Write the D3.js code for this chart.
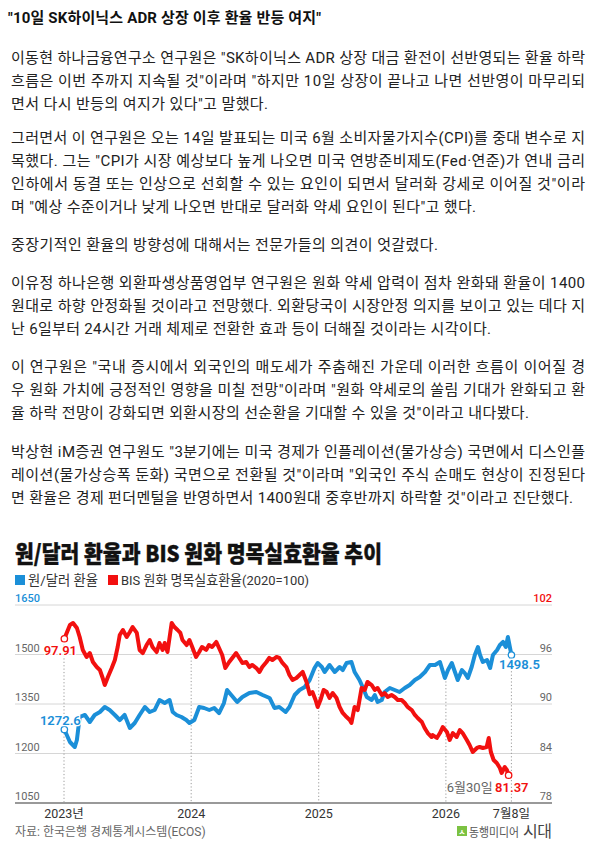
<!DOCTYPE html>
<html><head><meta charset="utf-8">
<script src="https://cdn.jsdelivr.net/npm/d3@7"></script>
<style>
html,body{margin:0;padding:0;background:#fff;}
svg{display:block;}
</style></head><body>
<svg id="c" width="597" height="843"></svg>
<script>
// ---------- article text ----------
const articleTitle = '"10일 SK하이닉스 ADR 상장 이후 환율 반등 여지"';
const paragraphs = [
  ['이동현 하나금융연구소 연구원은 "SK하이닉스 ADR 상장 대금 환전이 선반영되는 환율 하락',
   '흐름은 이번 주까지 지속될 것"이라며 "하지만 10일 상장이 끝나고 나면 선반영이 마무리되',
   '면서 다시 반등의 여지가 있다"고 말했다.'],
  ['그러면서 이 연구원은 오는 14일 발표되는 미국 6월 소비자물가지수(CPI)를 중대 변수로 지',
   '목했다. 그는 "CPI가 시장 예상보다 높게 나오면 미국 연방준비제도(Fed·연준)가 연내 금리',
   '인하에서 동결 또는 인상으로 선회할 수 있는 요인이 되면서 달러화 강세로 이어질 것"이라',
   '며 "예상 수준이거나 낮게 나오면 반대로 달러화 약세 요인이 된다"고 했다.'],
  ['중장기적인 환율의 방향성에 대해서는 전문가들의 의견이 엇갈렸다.'],
  ['이유정 하나은행 외환파생상품영업부 연구원은 원화 약세 압력이 점차 완화돼 환율이 1400',
   '원대로 하향 안정화될 것이라고 전망했다. 외환당국이 시장안정 의지를 보이고 있는 데다 지',
   '난 6일부터 24시간 거래 체제로 전환한 효과 등이 더해질 것이라는 시각이다.'],
  ['이 연구원은 "국내 증시에서 외국인의 매도세가 주춤해진 가운데 이러한 흐름이 이어질 경',
   '우 원화 가치에 긍정적인 영향을 미칠 전망"이라며 "원화 약세로의 쏠림 기대가 완화되고 환',
   '율 하락 전망이 강화되면 외환시장의 선순환을 기대할 수 있을 것"이라고 내다봤다.'],
  ['박상현 iM증권 연구원도 "3분기에는 미국 경제가 인플레이션(물가상승) 국면에서 디스인플',
   '레이션(물가상승폭 둔화) 국면으로 전환될 것"이라며 "외국인 주식 순매도 현상이 진정된다',
   '면 환율은 경제 펀더멘털을 반영하면서 1400원대 중후반까지 하락할 것"이라고 진단했다.']
];

// ---------- chart text ----------
const chartTitle = '원/달러 환율과 BIS 원화 명목실효환율 추이';
const seriesNames = ['원/달러 환율', 'BIS 원화 명목실효환율(2020=100)'];
const leftTicks = [1050, 1200, 1350, 1500, 1650];
const rightTicks = [78, 84, 90, 96, 102];
const xTickDates = ['2023-01-01', '2024-01-01', '2025-01-01', '2026-01-01', '2026-07-08'];
const xTickLabels = ['2023년', '2024', '2025', '2026', '7월8일'];
const endNote = '6월30일';
const sourceText = '자료: 한국은행 경제통계시스템(ECOS)';
const brandSmall = '동행미디어';
const brandBig = '시대';

// ---------- data ----------
const usdkrwDates = ['2023-01-02','2023-01-18','2023-02-01','2023-02-07','2023-02-15','2023-03-02','2023-03-16','2023-03-30','2023-04-14','2023-04-28','2023-05-12','2023-05-27','2023-06-10','2023-06-24','2023-07-09','2023-07-23','2023-08-06','2023-08-21','2023-09-04','2023-09-18','2023-10-02','2023-10-17','2023-10-31','2023-11-09','2023-11-20','2023-12-04','2023-12-18','2023-12-27',
'2024-01-10','2024-01-24','2024-02-07','2024-02-22','2024-03-07','2024-03-21','2024-04-04','2024-04-13','2024-04-25','2024-05-12','2024-05-27','2024-06-16','2024-07-06','2024-07-24','2024-08-13','2024-08-27','2024-09-10','2024-09-28','2024-10-09','2024-10-24','2024-11-07','2024-11-22','2024-12-06','2024-12-20','2024-12-29',
'2025-01-10','2025-01-18','2025-02-01','2025-02-16','2025-03-02','2025-03-11','2025-03-22','2025-04-05','2025-04-14','2025-04-28','2025-05-07','2025-05-19','2025-06-02','2025-06-11','2025-06-19','2025-07-01','2025-07-09','2025-07-24','2025-08-07','2025-08-21','2025-09-05','2025-09-19','2025-10-04','2025-10-18','2025-11-02','2025-11-16','2025-12-01','2025-12-15','2025-12-29',
'2026-01-07','2026-01-18','2026-01-27','2026-02-04','2026-02-16','2026-02-24','2026-03-05','2026-03-16','2026-03-25','2026-04-03','2026-04-09','2026-04-17','2026-04-29','2026-05-08','2026-05-16','2026-05-28','2026-06-05','2026-06-14','2026-06-22','2026-06-28','2026-07-08'];
const usdkrwValues = [1272.6,1234.8,1219.7,1240.9,1310.6,1316.7,1295.5,1316.7,1325.8,1340.9,1331.8,1316.7,1301.5,1316.7,1277.3,1292.4,1316.7,1340.9,1325.8,1331.8,1362.1,1353.0,1362.1,1325.8,1316.7,1310.6,1301.5,1292.4,
1301.5,1340.9,1337.9,1331.8,1337.9,1322.7,1353.0,1392.4,1377.3,1356.1,1371.2,1383.3,1386.4,1377.3,1368.2,1337.9,1340.9,1325.8,1340.9,1377.3,1392.4,1401.5,1422.7,1459.1,1474.2,
1462.1,1447.0,1468.2,1447.0,1462.1,1453.0,1474.2,1477.3,1447.0,1422.7,1401.5,1371.2,1362.1,1377.3,1356.1,1362.1,1386.4,1398.5,1392.4,1386.4,1398.5,1407.6,1422.7,1431.8,1447.0,1468.2,1468.2,1477.3,1428.8,
1453.0,1474.2,1447.0,1422.7,1453.0,1443.9,1428.8,1462.1,1498.5,1522.7,1498.5,1477.3,1483.3,1459.1,1498.5,1513.6,1528.8,1537.9,1522.7,1553.0,1498.5];

const neerDates = ['2023-01-02','2023-01-18','2023-01-27','2023-02-07','2023-02-15','2023-02-24','2023-03-07','2023-03-16','2023-03-25','2023-04-05','2023-04-14','2023-04-22','2023-04-28','2023-05-07','2023-05-18','2023-05-27','2023-06-04','2023-06-10','2023-06-19','2023-06-30','2023-07-09','2023-07-17','2023-07-29','2023-08-06','2023-08-15','2023-08-26','2023-09-04','2023-09-12','2023-09-24','2023-10-02','2023-10-11','2023-10-17','2023-10-25','2023-11-06','2023-11-14','2023-11-23','2023-12-01','2023-12-07','2023-12-19','2023-12-27',
'2024-01-04','2024-01-15','2024-01-24','2024-02-01','2024-02-13','2024-02-21','2024-03-01','2024-03-13','2024-03-21','2024-03-30','2024-04-08','2024-04-19','2024-04-28','2024-05-09','2024-05-18','2024-05-27','2024-06-07','2024-06-16','2024-06-24','2024-07-06','2024-07-15','2024-07-23','2024-08-04','2024-08-12','2024-08-21','2024-09-02','2024-09-10','2024-09-19','2024-09-30','2024-10-09','2024-10-18','2024-10-29','2024-11-07','2024-11-16','2024-11-27','2024-12-06','2024-12-14','2024-12-23','2024-12-29',
'2025-01-06','2025-01-15','2025-01-24','2025-02-01','2025-02-10','2025-02-21','2025-03-02','2025-03-11','2025-03-22','2025-03-31','2025-04-05','2025-04-14','2025-04-23','2025-04-28','2025-05-04','2025-05-13','2025-05-21','2025-06-02','2025-06-11','2025-06-19','2025-07-01','2025-07-09','2025-07-18','2025-07-29','2025-08-07','2025-08-16','2025-08-27','2025-09-05','2025-09-13','2025-09-25','2025-10-04','2025-10-12','2025-10-24','2025-11-01','2025-11-10','2025-11-21','2025-11-24','2025-12-06','2025-12-15','2025-12-23',
'2026-01-04','2026-01-12','2026-01-21','2026-02-01','2026-02-10','2026-02-18','2026-03-02','2026-03-10','2026-03-19','2026-03-31','2026-04-08','2026-04-17','2026-04-28','2026-05-04','2026-05-10','2026-05-18','2026-05-27','2026-06-05','2026-06-10','2026-06-19','2026-06-25','2026-06-30'];
const neerValues = [97.91,99.58,99.82,99.21,98.12,96.55,95.70,96.18,95.09,94.48,94.12,93.15,92.30,93.27,94.36,95.33,96.91,98.36,98.97,98.12,98.73,99.33,98.61,96.55,96.18,97.15,97.76,96.91,96.30,97.39,96.55,97.39,96.30,99.82,99.33,98.97,98.61,97.76,97.15,97.76,
96.91,95.70,96.30,96.91,96.55,97.15,96.91,97.52,96.79,95.94,94.36,95.09,95.58,96.18,95.58,94.97,95.09,94.48,94.73,94.36,93.88,94.48,95.09,95.58,95.33,95.70,95.58,94.97,94.48,93.52,92.91,93.15,93.52,93.88,92.67,91.20,91.45,90.48,89.64,
90.48,91.70,91.45,90.73,91.33,90.73,89.64,88.91,88.42,88.06,87.70,89.64,89.27,90.48,91.94,91.70,92.67,92.30,91.70,91.94,91.09,91.33,90.85,91.09,90.85,90.48,90.48,90.12,89.64,89.27,88.67,88.30,87.82,87.09,86.48,86.00,86.24,85.88,86.48,87.21,
86.61,85.64,86.48,86.00,86.85,86.48,85.64,85.03,84.18,84.67,84.79,84.67,84.79,85.88,84.18,83.21,82.85,82.24,81.64,82.36,82.00,81.37];

// ---------- drawing ----------
const BLUE = '#1b8fd8', RED = '#f2100f';
const svg = d3.select('#c');
const parse = d3.timeParse('%Y-%m-%d');
const FONT = 'Roboto, "Noto Sans CJK KR", sans-serif';
const KFONT = '"Noto Sans CJK KR", Roboto, sans-serif';

svg.append('rect').attr('width', 597).attr('height', 843).attr('fill', '#fff');

// article
svg.append('text').attr('x', 8).attr('y', 18).attr('dominant-baseline', 'central')
  .attr('font-family', FONT).attr('font-size', 15).attr('font-weight', 700).attr('fill', '#111')
  .attr('textLength', 313).attr('lengthAdjust', 'spacing').text(articleTitle);

const paraTop = [58, 138, 245, 283, 367, 452];
const lastWidths = [257, 465, 427, 480, 518, 562];
const LH = 23;
paragraphs.forEach((p, pi) => {
  p.forEach((line, li) => {
    const last = li === p.length - 1;
    svg.append('text').attr('x', 11).attr('y', paraTop[pi] + li * LH)
      .attr('dominant-baseline', 'central')
      .attr('font-family', FONT).attr('font-size', 15).attr('fill', '#222')
      .attr('textLength', last ? lastWidths[pi] : 574).attr('lengthAdjust', 'spacing')
      .text(line);
  });
});

// chart title & legend
svg.append('text').attr('x', 15).attr('y', 552).attr('dominant-baseline', 'central')
  .attr('font-family', KFONT).attr('font-size', 23).attr('font-weight', 900).attr('fill', '#111')
  .attr('stroke', '#111').attr('stroke-width', 0.4)
  .attr('textLength', 367).attr('lengthAdjust', 'spacingAndGlyphs').text(chartTitle);

const legendX = [15, 108];
const legendW = [70, 188];
[BLUE, RED].forEach((c, i) => {
  svg.append('rect').attr('x', legendX[i]).attr('y', 575).attr('width', 10).attr('height', 10).attr('fill', c);
  svg.append('text').attr('x', legendX[i] + 13).attr('y', 580).attr('dominant-baseline', 'central')
    .attr('font-family', FONT).attr('font-size', 13.5).attr('fill', '#333')
    .attr('textLength', legendW[i]).attr('lengthAdjust', 'spacingAndGlyphs').text(seriesNames[i]);
});

// scales
const x = d3.scaleTime().domain([parse('2023-01-01'), parse('2026-07-08')]).range([64, 511.4]);
const yL = d3.scaleLinear().domain([1050, 1650]).range([803, 605]);
const yR = d3.scaleLinear().domain([78, 102]).range([803, 605]);
const X0 = 15, X1 = 552;

// grid
leftTicks.forEach((v, i) => {
  const yy = yL(v);
  svg.append('line').attr('x1', X0).attr('x2', X1).attr('y1', yy).attr('y2', yy)
    .attr('stroke', i === 0 ? '#777' : '#d6d6d6').attr('stroke-width', i === 0 ? 1.5 : 1);
  svg.append('text').attr('x', X0).attr('y', yy - 3)
    .attr('font-family', FONT).attr('font-size', 11).attr('fill', v === 1650 ? BLUE : '#666')
    .attr('font-weight', v === 1650 ? 500 : 400).text(v);
});
rightTicks.forEach(v => {
  svg.append('text').attr('x', X1).attr('y', yR(v) - 3).attr('text-anchor', 'end')
    .attr('font-family', FONT).attr('font-size', 11).attr('fill', v === 102 ? RED : '#666')
    .attr('font-weight', v === 102 ? 500 : 400).text(v);
});

const blue = usdkrwDates.map((d, i) => ({ d: parse(d), v: usdkrwValues[i] }));
const red = neerDates.map((d, i) => ({ d: parse(d), v: neerValues[i] }));
const bis = d3.bisector(p => p.d).left;
function at(arr, date) {
  let i = Math.min(Math.max(bis(arr, date), 1), arr.length - 1);
  const a = arr[i - 1], b = arr[i];
  const t = Math.max(0, Math.min(1, (date - a.d) / (b.d - a.d)));
  return a.v + (b.v - a.v) * t;
}

// dotted verticals + x labels
xTickDates.forEach((ds, i) => {
  const d = parse(ds);
  const top = Math.min(yL(at(blue, d)), yR(at(red, d))) + 6;
  svg.append('line').attr('x1', x(d)).attr('x2', x(d)).attr('y1', top).attr('y2', 802)
    .attr('stroke', '#9a9a9a').attr('stroke-width', 1).attr('stroke-dasharray', '1.2,2.2');
  svg.append('text').attr('x', x(d)).attr('y', 813).attr('text-anchor', 'middle')
    .attr('dominant-baseline', 'central')
    .attr('font-family', FONT).attr('font-size', 12.5).attr('fill', '#333').text(xTickLabels[i]);
});

// lines
const lineL = d3.line().x(p => x(p.d)).y(p => yL(p.v));
const lineR = d3.line().x(p => x(p.d)).y(p => yR(p.v));
svg.append('path').attr('d', lineL(blue)).attr('fill', 'none').attr('stroke', BLUE)
  .attr('stroke-width', 4).attr('stroke-linejoin', 'round').attr('stroke-linecap', 'round');
svg.append('path').attr('d', lineR(red)).attr('fill', 'none').attr('stroke', RED)
  .attr('stroke-width', 4).attr('stroke-linejoin', 'round').attr('stroke-linecap', 'round');

// end-point markers
const bFirst = blue[0], bLast = blue[blue.length - 1];
const rFirst = red[0], rLast = red[red.length - 1];
[[bFirst, yL, BLUE], [bLast, yL, BLUE], [rFirst, yR, RED], [rLast, yR, RED]].forEach(([p, s, c]) => {
  svg.append('circle').attr('cx', x(p.d)).attr('cy', s(p.v)).attr('r', 3.2)
    .attr('fill', '#fff').attr('stroke', c).attr('stroke-width', 1.3);
});

function label(tx, ty, txt, color, weight, anchor) {
  svg.append('text').attr('x', tx).attr('y', ty).attr('text-anchor', anchor || 'middle')
    .attr('dominant-baseline', 'central')
    .attr('font-family', FONT).attr('font-size', 13).attr('font-weight', weight).attr('fill', color)
    .attr('stroke', '#fff').attr('stroke-width', 2.5).attr('paint-order', 'stroke')
    .text(txt);
}
label(x(rFirst.d) - 4, yR(rFirst.v) + 12, rFirst.v.toFixed(2), RED, 600);
label(x(bFirst.d) - 4, yL(bFirst.v) - 9, bFirst.v.toFixed(1), BLUE, 600);
label(x(bLast.d) + 8, yL(bLast.v) + 10, bLast.v.toFixed(1), BLUE, 600);
label(x(rLast.d) - 16, yR(rLast.v) + 12, endNote, '#666', 400, 'end');
label(x(rLast.d) - 13.5, yR(rLast.v) + 12, rLast.v.toFixed(2), RED, 600, 'start');

// source & logo
svg.append('text').attr('x', 15).attr('y', 832).attr('dominant-baseline', 'central')
  .attr('font-family', FONT).attr('font-size', 12).attr('fill', '#666').text(sourceText);
svg.append('rect').attr('x', 457).attr('y', 826).attr('width', 10).attr('height', 10).attr('fill', '#7cc242');
svg.append('text').attr('x', 462).attr('y', 831.5).attr('text-anchor', 'middle').attr('dominant-baseline', 'central')
  .attr('font-family', KFONT).attr('font-size', 8).attr('font-weight', 700).attr('fill', '#fff').text('ㅅ');
svg.append('text').attr('x', 469).attr('y', 831).attr('dominant-baseline', 'central')
  .attr('font-family', KFONT).attr('font-size', 12).attr('fill', '#555')
  .attr('textLength', 50).attr('lengthAdjust', 'spacingAndGlyphs').text(brandSmall);
svg.append('text').attr('x', 523).attr('y', 830).attr('dominant-baseline', 'central')
  .attr('font-family', KFONT).attr('font-size', 16).attr('fill', '#444')
  .attr('textLength', 29).attr('lengthAdjust', 'spacing').text(brandBig);
</script>
</body></html>
